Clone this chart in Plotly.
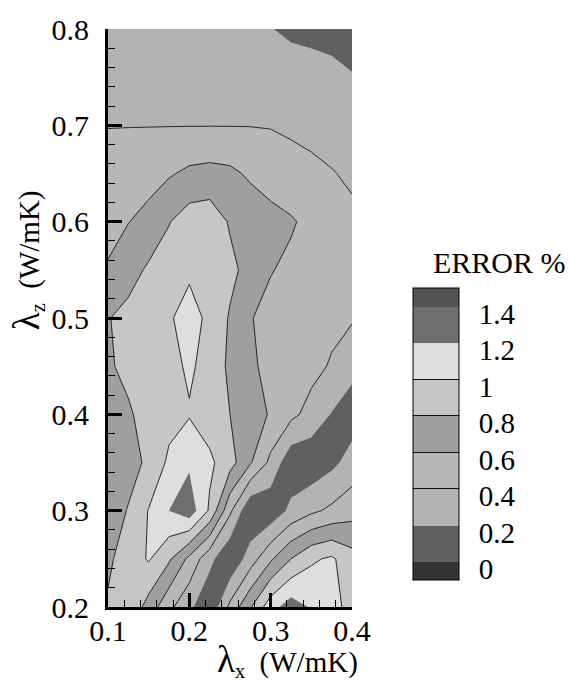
import plotly.graph_objects as go

# grid of the map
lam_x = [0.100, 0.125, 0.150, 0.175, 0.200, 0.225, 0.250, 0.275, 0.300, 0.325, 0.350, 0.375, 0.400]
lam_z = [0.20, 0.25, 0.30, 0.35, 0.40, 0.45, 0.50, 0.55, 0.60, 0.65, 0.70, 0.75, 0.80]

# error (%), one row per lambda_z (bottom to top)
err_020 = [0.82, 0.97, 0.72, 0.45, 0.25, 0.03, 0.45, 0.78, 1.12, 1.30, 1.18, 1.05, 0.95]
err_025 = [0.77, 0.88, 1.02, 0.83, 0.55, 0.26, 0.02, 0.30, 0.57, 0.80, 0.97, 1.03, 0.88]
err_030 = [0.71, 0.81, 1.01, 1.20, 1.32, 0.97, 0.44, 0.02, 0.06, 0.25, 0.36, 0.44, 0.52]
err_035 = [0.70, 0.74, 0.83, 1.04, 1.17, 1.04, 0.88, 0.62, 0.35, 0.06, 0.06, 0.15, 0.28]
err_040 = [0.72, 0.78, 0.86, 0.93, 0.985, 0.90, 0.80, 0.70, 0.58, 0.45, 0.33, 0.19, 0.10]
err_045 = [0.78, 0.84, 0.89, 0.94, 1.03, 0.93, 0.76, 0.63, 0.55, 0.50, 0.46, 0.38, 0.26]
err_050 = [0.79, 0.86, 0.92, 0.98, 1.07, 0.96, 0.78, 0.61, 0.54, 0.50, 0.47, 0.45, 0.42]
err_055 = [0.62, 0.72, 0.83, 0.90, 0.97, 0.95, 0.85, 0.73, 0.61, 0.56, 0.52, 0.49, 0.47]
err_060 = [0.53, 0.595, 0.66, 0.79, 0.90, 0.92, 0.78, 0.72, 0.66, 0.62, 0.55, 0.49, 0.44]
err_065 = [0.47, 0.50, 0.53, 0.58, 0.64, 0.66, 0.64, 0.57, 0.52, 0.47, 0.44, 0.41, 0.37]
err_070 = [0.395, 0.395, 0.395, 0.395, 0.395, 0.395, 0.395, 0.395, 0.39, 0.37, 0.35, 0.32, 0.29]
err_075 = [0.33, 0.33, 0.33, 0.33, 0.33, 0.33, 0.33, 0.33, 0.33, 0.33, 0.32, 0.28, 0.215]
err_080 = [0.30, 0.30, 0.30, 0.30, 0.30, 0.30, 0.30, 0.27, 0.21, 0.15, 0.12, 0.10, 0.08]

err = [err_020, err_025, err_030, err_035, err_040, err_045, err_050,
       err_055, err_060, err_065, err_070, err_075, err_080]

levels = [0, 0.2, 0.4, 0.6, 0.8, 1.0, 1.2, 1.4]
level_text = ["0", "0.2", "0.4", "0.6", "0.8", "1", "1.2", "1.4"]
line_levels = [0.4, 0.6, 0.8, 1.0]
x_ticks = [0.1, 0.2, 0.3, 0.4]
y_ticks = [0.2, 0.3, 0.4, 0.5, 0.6, 0.7, 0.8]

# band colours: below 0, 0-0.2, ..., 1.2-1.4, above 1.4
band_colors = ["#333333", "#606060", "#b3b3b3", "#b8b8b8", "#9f9f9f",
               "#c6c6c6", "#dedede", "#6e6e6e", "#545454"]
n = len(band_colors) - 1
colorscale = [[i / n, c] for i, c in enumerate(band_colors)]

# legend scale: bands from -0.1 to 1.5 with thin separators at the line levels
cb_lo, cb_hi = -0.1, 1.5
d = 0.0022
cb_scale = []
bounds = [(lv - cb_lo) / (cb_hi - cb_lo) for lv in levels]
for k, col in enumerate(band_colors):
    lo = 0.0 if k == 0 else bounds[k - 1] + d
    hi = 1.0 if k == len(band_colors) - 1 else bounds[k] - d
    cb_scale.append([lo, col])
    cb_scale.append([hi, col])
    if k < len(band_colors) - 1:
        sep = "#111111" if levels[k] in line_levels else band_colors[k + 1]
        cb_scale.append([bounds[k] - d, sep])
        cb_scale.append([bounds[k] + d, sep])

FONT = "Times New Roman, Liberation Serif, DejaVu Serif, serif"

flood = go.Contour(
    x=lam_x, y=lam_z, z=err,
    colorscale=colorscale, showscale=False,
    contours=dict(start=0, end=1.4, size=0.2, coloring="fill", showlines=False),
    line=dict(width=0, smoothing=0),
    hoverinfo="skip",
)

lines = go.Contour(
    x=lam_x, y=lam_z, z=err,
    colorscale=[[0, "#111111"], [1, "#111111"]], showscale=False,
    contours=dict(start=min(line_levels), end=max(line_levels), size=0.2, coloring="lines"),
    line=dict(width=0.9, smoothing=0),
    hoverinfo="skip",
)

legend_bar = go.Scatter(
    x=[None], y=[None], mode="markers", showlegend=False, hoverinfo="skip",
    marker=dict(
        color=[0.5], cmin=cb_lo, cmax=cb_hi, colorscale=cb_scale, showscale=True,
        colorbar=dict(
            tickvals=[v - 0.038 for v in levels], ticktext=level_text,
            ticks="outside", ticklen=14, tickcolor="rgba(0,0,0,0)",
            tickfont=dict(family=FONT, size=29, color="black", weight="normal"),
            thickness=46, len=0.505, lenmode="fraction",
            x=1.25, xanchor="left", y=0.299, yanchor="middle",
            xpad=0, ypad=0, outlinecolor="black", outlinewidth=1,
        ),
    ),
)

fig = go.Figure([flood, lines, legend_bar])

axis_common = dict(
    showgrid=False, zeroline=False, showline=True, linewidth=3, linecolor="black",
    ticks="inside", ticklen=14, tickwidth=3, tickcolor="black",
    tickfont=dict(family=FONT, size=30, color="black", weight="normal"),
    minor=dict(dtick=0.02, ticks="inside", ticklen=7, tickwidth=1, tickcolor="black"),
    mirror=False,
)

fig.update_layout(
    width=568, height=687,
    margin=dict(l=108, r=216, t=17, b=80),
    paper_bgcolor="white", plot_bgcolor="white",
    font=dict(family=FONT, color="black"),
    xaxis=dict(range=[0.1, 0.4], tickvals=x_ticks, ticktext=[str(v) for v in x_ticks],
               ticklabelstandoff=-5, **axis_common),
    yaxis=dict(range=[0.2, 0.8], tickvals=y_ticks, ticktext=[str(v) for v in y_ticks],
               ticklabelstandoff=10, **axis_common),
    annotations=[
        dict(text="<span style='font-size:37px'>λ</span><sub>x</sub>&nbsp;&nbsp;(W/mK)",
             x=0.735, y=-0.093, xref="paper", yref="paper", showarrow=False,
             xanchor="center", yanchor="middle",
             font=dict(family=FONT, size=29, color="black")),
        dict(text="<span style='font-size:37px'>λ</span><sub>z</sub>&nbsp;&nbsp;(W/mK)",
             x=-0.332, y=0.6, xref="paper", yref="paper", showarrow=False, textangle=-90,
             xanchor="center", yanchor="middle",
             font=dict(family=FONT, size=29, color="black")),
        dict(text="ERROR %", x=1.325, y=0.596, xref="paper", yref="paper", showarrow=False,
             xanchor="left", yanchor="middle",
             font=dict(family=FONT, size=30, color="black")),
    ],
)

fig.write_html("out.html")
